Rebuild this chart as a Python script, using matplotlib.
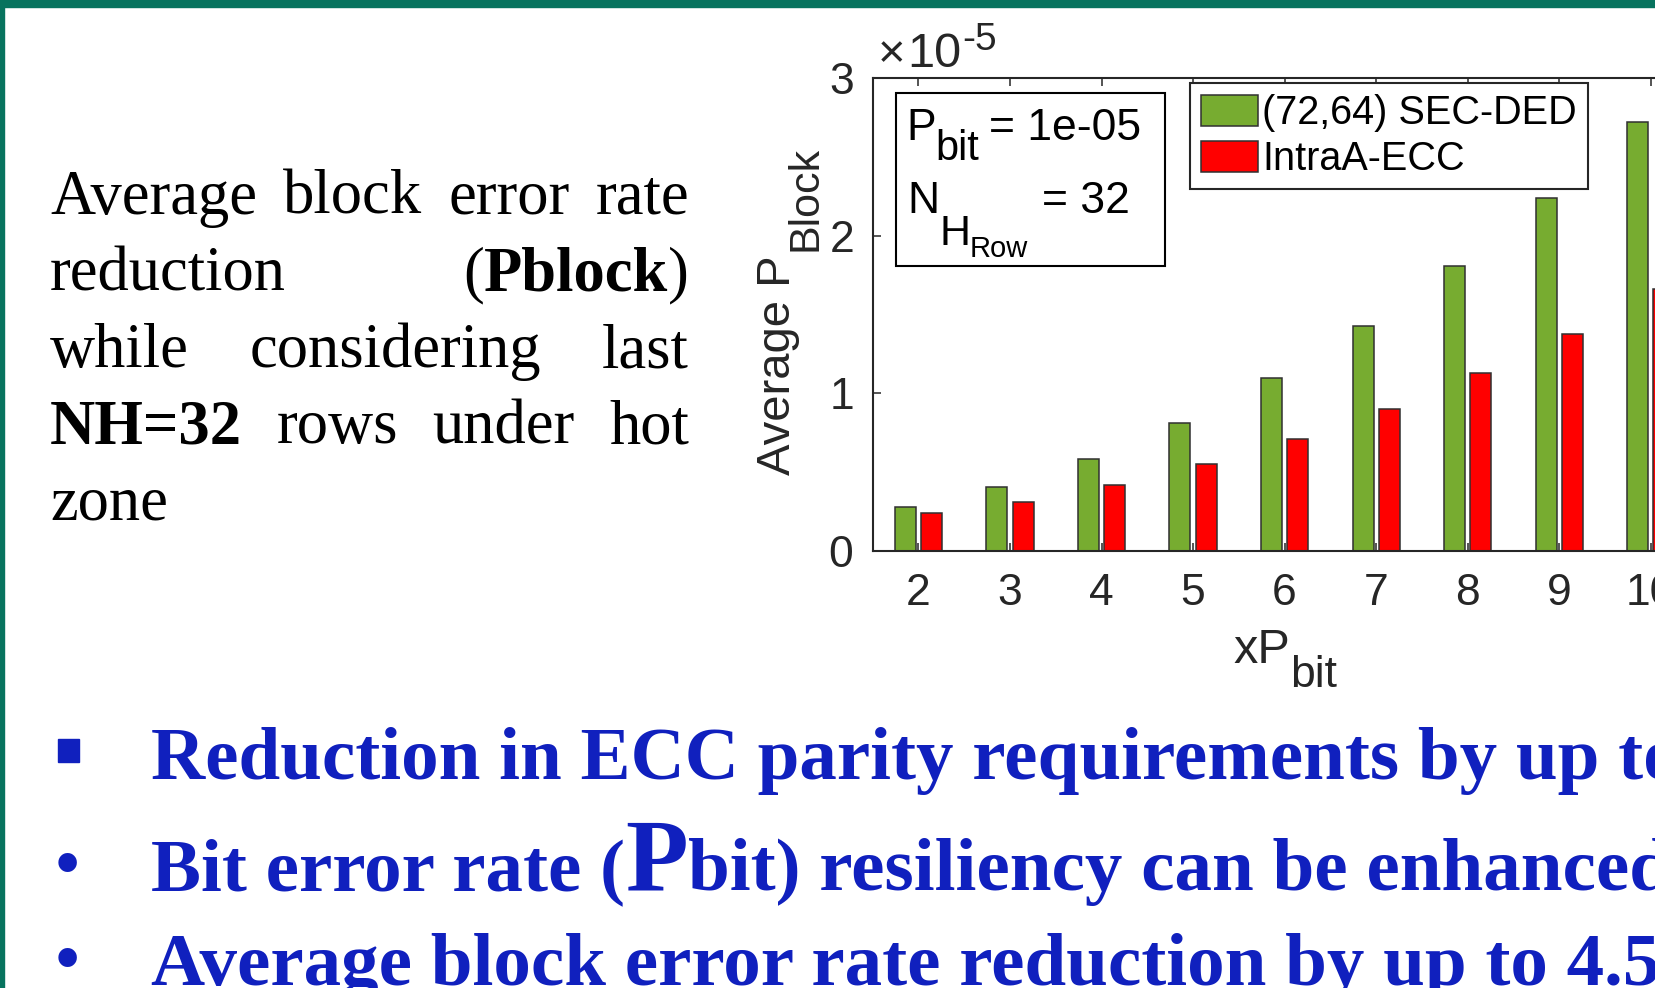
import numpy as np
import matplotlib
matplotlib.use('Agg')
import matplotlib.pyplot as plt
from matplotlib.patches import Rectangle

# block error rate for each multiple of Pbit (values in units of 1e-5)
xp = np.array([2, 3, 4, 5, 6, 7, 8, 9, 10])
sec_ded = np.array([0.279, 0.404, 0.584, 0.815, 1.098, 1.428, 1.810, 2.240, 2.720])
intraa_ecc = np.array([0.241, 0.313, 0.417, 0.550, 0.713, 0.903, 1.128, 1.377, 1.660])
series_labels = ['(72,64) SEC-DED', 'IntraA-ECC']
y_ticks = [0, 1, 2, 3]

para_lines = [
	[[('Average', False)], [('block', False)], [('error', False)], [('rate', False)]],
	[[('reduction', False)], [('(', False), ('Pblock', True), (')', False)]],
	[[('while', False)], [('considering', False)], [('last', False)]],
	[[('NH=32', True)], [('rows', False)], [('under', False)], [('hot', False)]],
	[[('zone', False)]],
]
bullets = [
	('\u25a0', [('Reduction in ECC parity requirements by up to', 54)]),
	('\u2022', [('Bit error rate (', 54), ('P', 74), ('bit) resiliency can be enhanced', 54)]),
	('\u2022', [('Average block error rate reduction by up to 4.5x', 54)]),
]

W, H = 1655, 988
green = '#77AC30'
red = '#FF0000'
teal = '#07735E'
blue = '#1020BE'
ink = '#262626'
sans = 'Liberation Sans'
serif = 'Liberation Serif'

plt.rcParams.update({
	'font.family': sans,
	'mathtext.fontset': 'custom',
	'mathtext.rm': sans,
	'mathtext.it': sans + ':italic',
	'mathtext.bf': sans + ':bold',
})

fig = plt.figure(figsize=(W / 100, H / 100), dpi=100)
fig.patch.set_facecolor('white')
renderer = fig.canvas.get_renderer()


def fx(px):
	return px / W


def fy(py):
	return 1 - py / H


def text_width(t):
	bb = t.get_window_extent(renderer)
	return bb.width


def runs(x, y, parts, family=sans, color=ink, rotation=0):
	"""Draw consecutive pieces of text; shift moves the baseline down (or right when rotated)."""
	for text, size, shift, space in parts:
		if rotation == 0:
			t = fig.text(fx(x), fy(y + shift), text, fontsize=size, family=family, color=color,
				ha='left', va='baseline')
			x += text_width(t) + space
		else:
			t = fig.text(fx(x + shift), fy(y), text, fontsize=size, family=family, color=color,
				ha='left', va='baseline', rotation=90, rotation_mode='anchor')
			y -= t.get_window_extent(renderer).height + space
	return x, y


# slide frame
fig.patches.append(Rectangle((0, fy(7)), 1, 7 / H, transform=fig.transFigure, color=teal, zorder=5))
fig.patches.append(Rectangle((0, 0), 4 / W, 1, transform=fig.transFigure, color=teal, zorder=5))

# justified paragraph on the left
left_x, right_x = 50, 689
base_y = 214
pitch = 76.5
for i, line in enumerate(para_lines):
	y = base_y + i * pitch
	words = []
	for word in line:
		pieces = []
		for seg, bold in word:
			t = fig.text(0, 0, seg, fontsize=45, family=serif, weight='bold' if bold else 'normal',
				ha='left', va='baseline')
			pieces.append((t, text_width(t)))
		words.append(pieces)
	widths = [sum(w for _, w in p) for p in words]
	if i < len(para_lines) - 1 and len(words) > 1:
		gap = (right_x - left_x - sum(widths)) / (len(words) - 1)
	else:
		gap = 45 * 100 / 72 * 0.25
	x = left_x
	for pieces, wsum in zip(words, widths):
		for t, w in pieces:
			t.set_position((fx(x), fy(y)))
			x += w
		x += gap

# bullets at the bottom
bullet_y = [779, 890, 985]
for (mark, parts), y in zip(bullets, bullet_y):
	if mark == '\u25a0':
		fig.patches.append(Rectangle((fx(58), fy(762)), 21 / W, 23 / H, transform=fig.transFigure, color=blue))
	else:
		fig.text(fx(54), fy(y - 20), mark, fontsize=56, family=serif, color=blue, ha='left', va='center')
	x = 151
	for text, size in parts:
		t = fig.text(fx(x), fy(y), text, fontsize=size, family=serif, weight='bold', color=blue,
			ha='left', va='baseline')
		x += text_width(t)

# bar chart
ax = fig.add_axes([fx(872.7), 437 / H, 823.8 / W, 472.7 / H])
bw = 0.229
off = 0.143
b1 = ax.bar(xp - off, sec_ded * 1e-5, width=bw, color=green, edgecolor='#303030', linewidth=1.1,
	label=series_labels[0])
b2 = ax.bar(xp + off, intraa_ecc * 1e-5, width=bw, color=red, edgecolor='#303030', linewidth=1.1,
	label=series_labels[1])
ax.set_xlim(1.5, 10.5)
ax.set_ylim(0, 3e-5)
ax.set_xticks(xp)
ax.set_yticks([v * 1e-5 for v in y_ticks])
ax.ticklabel_format(axis='y', style='sci', scilimits=(0, 0), useMathText=True)
ax.tick_params(direction='in', top=True, right=True, length=6, width=1.1, color=ink,
	labelsize=32, labelcolor=ink)
ax.tick_params(axis='x', pad=16)
ax.tick_params(axis='y', pad=14)
ax.yaxis.get_offset_text().set_visible(False)
for s in ax.spines.values():
	s.set_color(ink)
	s.set_linewidth(1.5)

# exponent drawn by hand, MATLAB style
runs(878, 67, [('\u00d7', 34, 0, 2), ('10', 35, 0, 1), ('-5', 28, -17, 0)])

leg = ax.legend(handles=[b1, b2], loc='upper left', bbox_to_anchor=(0.385, 0.99), borderaxespad=0,
	fancybox=False, edgecolor=ink, framealpha=1, fontsize=28.5, handlelength=1.45, handleheight=0.85,
	handletextpad=0.1, labelspacing=0.2, borderpad=0.28)
leg.get_frame().set_linewidth(1.5)
for txt in leg.get_texts():
	txt.set_color('black')

# annotation box with the simulation parameters
ax.add_patch(Rectangle((0.0283, 0.603), 0.3265, 0.366, transform=ax.transAxes, fill=False,
	edgecolor='black', linewidth=1.5, zorder=4))
runs(906, 140, [('P', 32, 0, 0), ('bit', 30, 20, 10), ('= 1e-05', 32, 0, 0)], color='black')
runs(907, 213, [('N', 32, 0, 0), ('H', 31, 32, 0), ('Row', 21, 44, 14), ('= 32', 32, 0, 0)], color='black')

# axis labels
runs(1233, 663, [('xP', 35, 0, 0), ('bit', 32, 24, 0)])
runs(790, 475, [('Average P', 34, 0, 4), ('Block', 31, 26, 0)], rotation=90)

fig.savefig('out.png', dpi=100)
